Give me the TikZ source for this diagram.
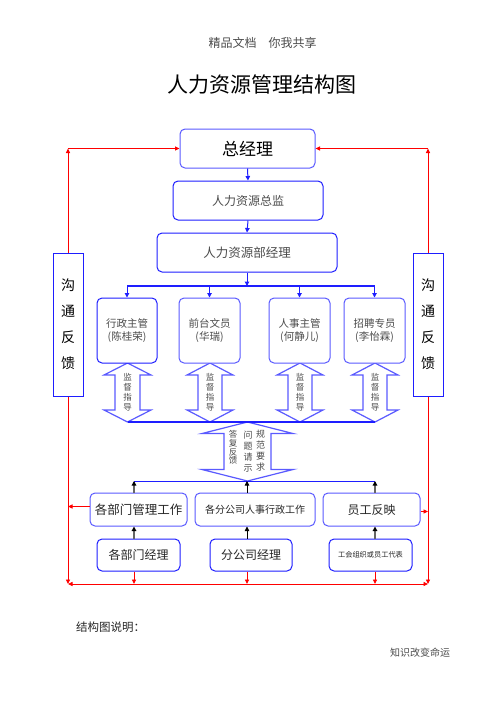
\documentclass[tikz,border=0pt]{standalone}
\usepackage{fontspec}
\newfontfamily\cjk{Noto Sans CJK SC}
\usetikzlibrary{arrows.meta}
\definecolor{bblue}{RGB}{30,30,255}
\definecolor{lblue}{RGB}{90,90,255}
\definecolor{tgray}{RGB}{75,75,75}
\newcommand\hdbl[6]{\draw[hollow] (#1,#2) -- ({#1+#4},{#2+#6}) -- ({#1+#5},{#2+#6}) -- ({#1+#5},{#3-#6}) -- ({#1+#4},{#3-#6}) -- (#1,#3) -- ({#1-#4},{#3-#6}) -- ({#1-#5},{#3-#6}) -- ({#1-#5},{#2+#6}) -- ({#1-#4},{#2+#6}) -- cycle;}
\newcommand\fs[2]{\cjk\fontsize{#1}{#2}\selectfont}
\begin{document}
\begin{tikzpicture}[x=1pt,y=-1pt,
 box/.style={draw=bblue, line width=1pt, rounded corners=5pt, fill=white, inner sep=0pt, align=center},
 fbbox/.style={draw=bblue, line width=1pt, fill=white, inner sep=0pt, align=center},
 barr/.style={draw=bblue, line width=1pt, -{Triangle[length=4.5pt,width=4.5pt]}},
 busline/.style={draw=bblue, line width=2.2pt},
 thinbus/.style={draw=bblue, line width=1pt},
 karr/.style={draw=black, line width=0.9pt, -{Triangle[length=4.5pt,width=4.5pt]}},
 kgarr/.style={draw=black!60, line width=1.8pt, -{Triangle[length=4.5pt,width=4.5pt,color=black]}},
 rarr/.style={draw=red, line width=0.9pt, -{Triangle[length=4.5pt,width=4pt]}},
 rline/.style={draw=red, line width=0.9pt},
 hollow/.style={draw=lblue, line width=1.2pt, fill=white},
 lbl/.style={inner sep=0pt, align=center, text=tgray},
]
\useasboundingbox[fill=white] (0,0) rectangle (496,702);

% header, title, footer
\node[lbl, text=black!70, font=\fs{12}{14}] (hdr) at (262.5,43) {精品文档\hspace{12pt}你我共享};
\node[lbl, text=black, font=\fs{21}{24}] (ttl) at (262,85) {人力资源管理结构图};
\node[lbl, anchor=west, text=black!85, font=\fs{11.5}{14}] (ftl) at (76,627) {结构图说明：};
\node[lbl, anchor=west, text=black!70, font=\fs{10}{12}] (ftr) at (390,653) {知识改变命运};

% columns and buses
\coordinate (bus1) at (247,286);
\coordinate (bus1L) at (127,286);
\coordinate (bus1R) at (374.5,286);
\coordinate (bus2L) at (128,422);
\coordinate (bus2R) at (375,422);
\coordinate (bus3L) at (134,481);
\coordinate (bus3R) at (375,481);
\coordinate (c1) at (134,0);
\coordinate (c2) at (247,0);
\coordinate (c3) at (375,0);
\coordinate (rl) at (68,584);
\coordinate (rr) at (428,584);

% hollow double arrows
\hdbl{127.5}{363}{422}{23.5}{12.5}{12}
\hdbl{210}{363}{422}{23}{12}{12}
\hdbl{300}{363}{422}{23}{12}{12}
\hdbl{375}{363}{422}{23}{12}{12}
\hdbl{247.5}{422}{481}{45.5}{23.5}{11.5}

% boxes
\node[box, draw=lblue, minimum width=135pt, minimum height=39pt, font=\fs{17}{20}] (gm) at (247.5,148.5) {总经理};
\node[box, minimum width=150pt, minimum height=39pt, text=tgray, font=\fs{12}{14}] (hrd) at (248,200.5) {人力资源总监};
\node[box, minimum width=180pt, minimum height=39pt, text=tgray, font=\fs{12.5}{14}] (hrm) at (247,252.5) {人力资源部经理};

\node[box, minimum width=60pt, minimum height=65pt, text=tgray, font=\fs{10.5}{13}] (b1) at (127,330.5) {行政主管\\(陈桂荣)};
\node[box, draw=lblue, minimum width=61pt, minimum height=65pt, text=tgray, font=\fs{10.5}{13}] (b2) at (209.5,330.5) {前台文员\\(华瑞)};
\node[box, draw=lblue, minimum width=61pt, minimum height=65pt, text=tgray, font=\fs{10.5}{13}] (b3) at (299.5,330.5) {人事主管\\(何静儿)};
\node[box, draw=lblue, minimum width=61pt, minimum height=65pt, text=tgray, font=\fs{10.5}{13}] (b4) at (374.5,330.5) {招聘专员\\(李怡霖)};

\node[fbbox, minimum width=30pt, minimum height=143pt, font=\fs{14}{26}] (lb) at (68,324.5) {沟\\通\\反\\馈};
\node[fbbox, minimum width=30pt, minimum height=143pt, font=\fs{14}{26}] (rb) at (428,324.5) {沟\\通\\反\\馈};

\node[box, draw=lblue, minimum width=97pt, minimum height=33pt, text=black!85, font=\fs{12.5}{14}] (m1) at (138.5,509.5) {各部门管理工作};
\node[box, draw=lblue, minimum width=120pt, minimum height=33pt, text=black!85, font=\fs{10}{12}] (m2) at (255,509.5) {各分公司人事行政工作};
\node[box, draw=lblue, minimum width=97pt, minimum height=33pt, text=black!85, font=\fs{12}{14}] (m3) at (371.5,509.5) {员工反映};

\node[box, minimum width=83pt, minimum height=32pt, text=black!85, font=\fs{12}{14}] (d1) at (138.5,555) {各部门经理};
\node[box, minimum width=82pt, minimum height=32pt, text=black!85, font=\fs{12}{14}] (d2) at (251,555) {分公司经理};
\node[box, minimum width=83pt, minimum height=32pt, text=black!85, font=\fs{7.2}{9}] (d3) at (370.5,555) {工会组织或员工代表};

% labels inside hollow arrows
\node[lbl, font=\fs{8.5}{10}] (s1) at (127.5,392) {监\\督\\指\\导};
\node[lbl, font=\fs{8.5}{10}] (s2) at (210,392) {监\\督\\指\\导};
\node[lbl, font=\fs{8.5}{10}] (s3) at (300,392) {监\\督\\指\\导};
\node[lbl, font=\fs{8.5}{10}] (s4) at (375,392) {监\\督\\指\\导};
\node[lbl, font=\fs{8.5}{8.6}] (t1) at (233,447.5) {答\\复\\反\\馈};
\node[lbl, font=\fs{9}{11}] (t2) at (248,451.5) {问\\题\\请\\示};
\node[lbl, font=\fs{9}{11}] (t3) at (260.5,451) {规\\范\\要\\求};

% blue connectors
\draw[barr] (gm.south) -- (hrd.north);
\draw[barr] (hrd.south) -- (hrm.north);
\draw[busline] (bus1L) -- (bus1R);
\draw[barr] (hrm.south) -- (bus1);
\draw[barr] (b1.north |- bus1) -- (b1.north);
\draw[barr] (b2.north |- bus1) -- (b2.north);
\draw[barr] (b3.north |- bus1) -- (b3.north);
\draw[barr] (b4.north |- bus1) -- (b4.north);
\draw[busline] (bus2L) -- (bus2R);
\draw[thinbus] (bus3L) -- (bus3R);

% black connectors
\draw[kgarr] (m1.north -| c1) -- (c1 |- bus3L);
\draw[karr] (m2.north -| c2) -- (c2 |- bus3L);
\draw[kgarr] (m3.north -| c3) -- (c3 |- bus3L);
\draw[kgarr] (d1.north -| c1) -- (m1.south -| c1);
\draw[karr] (d2.north -| c2) -- (m2.south -| c2);
\draw[kgarr] (d3.north -| c3) -- (m3.south -| c3);

% red feedback lines
\draw[rarr] (lb.north) -- (lb.north |- gm.west);
\draw[rarr] (lb.north |- gm.west) -- (gm.west);
\draw[rarr] (rb.north) -- (rb.north |- gm.east);
\draw[rarr] (rb.north |- gm.east) -- (gm.east);
\draw[rarr] (lb.south) -- (rl);
\draw[rarr] (rb.south) -- (rr);
\draw[rline, {Triangle[length=4.5pt,width=4pt]}-{Triangle[length=4.5pt,width=4pt]}] (rl) -- (rr);
\draw[rarr] (d1.south -| c1) -- (c1 |- rl);
\draw[rarr] (d2.south -| c2) -- (c2 |- rl);
\draw[rarr] (d3.south -| c3) -- (c3 |- rl);
\draw[rarr] ([yshift=3pt]m1.west) -- ([yshift=3pt]m1.west -| lb.south);
\draw[rarr] ([yshift=-2pt]m3.east) -- ([yshift=-2pt]m3.east -| rb.south);
\end{tikzpicture}
\end{document}
